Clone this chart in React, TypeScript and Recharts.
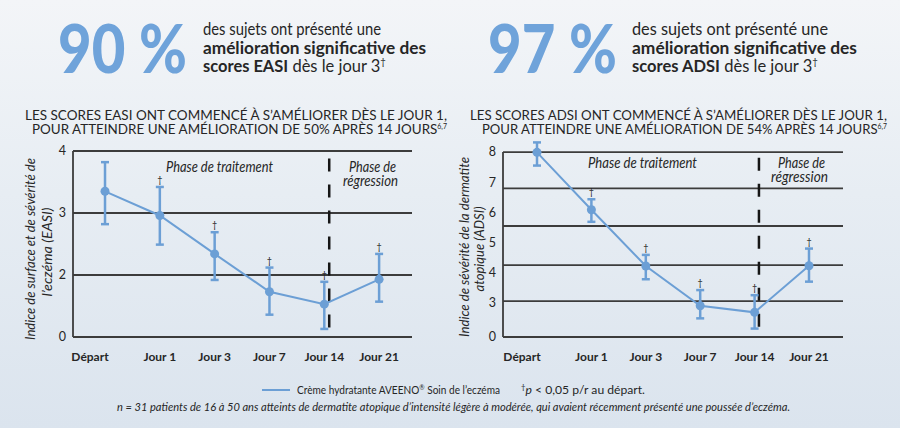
import React from 'react';
import { LineChart, Line, XAxis, YAxis, ErrorBar, ReferenceLine, LabelList } from 'recharts';

// ---------- data ----------
const categories = ['Départ', 'Jour 1', 'Jour 3', 'Jour 7', 'Jour 14', 'Jour 21'];
const significant = [false, true, true, true, true, true];

const easiMean = [3.35, 2.96, 2.34, 1.73, 1.53, 1.93];
const easiHigh = [3.82, 3.42, 2.69, 2.12, 1.89, 2.34];
const easiLow = [2.82, 2.49, 1.92, 1.36, 1.13, 1.57];

const adsiMean = [7.99, 6.08, 4.21, 2.89, 2.67, 4.22];
const adsiHigh = [8.32, 6.43, 4.58, 3.41, 3.24, 4.79];
const adsiLow = [7.55, 5.68, 3.77, 2.47, 2.13, 3.69];

// broken axes: the lowest tick position is labelled "0"
const easiTicks = [4, 3, 2, 1];
const easiTickLabels = ['4', '3', '2', '0'];
const easiGrid = [4, 3, 2];

const adsiTicks = [8, 7, 6, 5, 4, 3, 1.85];
const adsiTickLabels = ['8', '7', '6', '5', '4', '3', '0'];
const adsiGrid = [8, 6.79, 5.54, 4.24, 3.04];

// ---------- styles ----------
const BLUE = '#6c9fd5';
const BIG = '#6fa3da';
const DARK = '#262626';
const GRID = '#3c3c3c';
const FONT = 'Lato, "Open Sans", sans-serif';

function buildRows(mean: number[], hi: number[], lo: number[]) {
  return categories.map((c, i) => ({
    idx: i,
    cat: c,
    mean: mean[i],
    hi: hi[i],
    err: [+(mean[i] - lo[i]).toFixed(3), +(hi[i] - mean[i]).toFixed(3)],
    dag: significant[i] ? '†' : '',
  }));
}

const easiRows = buildRows(easiMean, easiHigh, easiLow);
const adsiRows = buildRows(adsiMean, adsiHigh, adsiLow);

const XTick = (props: any) => {
  const { x, y, payload } = props;
  const v = payload.value;
  return (
    <text
      x={x + (v === 0 ? -15 : 0)}
      y={y}
      dy="0.71em"
      textAnchor="middle"
      fontSize={12}
      fontWeight={700}
      fontFamily={FONT}
      fill={DARK}
    >
      {categories[v]}
    </text>
  );
};

const Dagger = (props: any) => {
  const { x, y, value } = props;
  if (!value) return null;
  return (
    <text x={x} y={y - 4} textAnchor="middle" fontSize={9} fill={DARK} fontFamily={FONT}>
      {value}
    </text>
  );
};

type PanelProps = {
  rows: any[];
  yDomain: [number, number];
  yTicks: number[];
  yTickLabels: string[];
  grid: number[];
  xDomain: [number, number];
  boundary: number;
  boundarySpan: [number, number];
  margin: any;
  width: number;
  height: number;
  left: number;
  top: number;
};

function Panel(p: PanelProps) {
  return (
    <div style={{ position: 'absolute', left: p.left, top: p.top }}>
      <LineChart width={p.width} height={p.height} data={p.rows} margin={p.margin}>
        {p.grid.map((v) => (
          <ReferenceLine key={v} y={v} stroke={GRID} strokeWidth={1.8} />
        ))}
        <XAxis
          type="number"
          dataKey="idx"
          domain={p.xDomain}
          ticks={[0, 1, 2, 3, 4, 5]}
          interval={0}
          tick={<XTick />}
          tickLine={false}
          tickSize={0}
          tickMargin={15}
          height={30}
          axisLine={{ stroke: GRID, strokeWidth: 1.8 }}
        />
        <YAxis
          type="number"
          domain={p.yDomain}
          ticks={p.yTicks}
          interval={0}
          tickFormatter={(v: number) => p.yTickLabels[p.yTicks.indexOf(v)]}
          width={40}
          tickLine={false}
          tickSize={0}
          tickMargin={7}
          axisLine={false}
          tick={{ fontSize: 12.5, fill: DARK, fontFamily: FONT }}
        />
        <ReferenceLine
          segment={[
            { x: p.xDomain[0], y: p.yTicks[p.yTicks.length - 1] },
            { x: p.xDomain[0], y: p.yTicks[0] },
          ]}
          stroke={GRID}
          strokeWidth={1.8}
        />
        <ReferenceLine
          segment={[
            { x: p.boundary, y: p.boundarySpan[0] },
            { x: p.boundary, y: p.boundarySpan[1] },
          ]}
          stroke="#161616"
          strokeWidth={2.5}
          strokeDasharray="13 13"
        />
        <Line
          dataKey="mean"
          stroke={BLUE}
          strokeWidth={2}
          dot={{ r: 4.5, fill: BLUE, stroke: BLUE, strokeWidth: 0 }}
          activeDot={false}
          isAnimationActive={false}
          type="linear"
        >
          <ErrorBar dataKey="err" width={4} strokeWidth={2.5} stroke={BLUE} direction="y" />
        </Line>
        <Line
          dataKey="hi"
          stroke="none"
          dot={false}
          activeDot={false}
          isAnimationActive={false}
          legendType="none"
        >
          <LabelList dataKey="dag" content={<Dagger />} />
        </Line>
      </LineChart>
    </div>
  );
}

const T = (props: any) => <text fontFamily={FONT} fill={DARK} lengthAdjust="spacingAndGlyphs" {...props} />;

export default function App() {
  return (
    <div
      style={{
        position: 'absolute',
        left: 0,
        top: 0,
        width: 900,
        height: 428,
        overflow: 'hidden',
        background: 'linear-gradient(to bottom, #f3f5f8 0%, #e7edf3 45%, #dbe4ee 100%)',
      }}
    >
      <Panel
        rows={easiRows}
        yDomain={[1, 4]}
        yTicks={easiTicks}
        yTickLabels={easiTickLabels}
        grid={easiGrid}
        xDomain={[-0.584, 5.6]}
        boundary={4.09}
        boundarySpan={[3.88, 1.07]}
        margin={{ top: 11, right: 38, bottom: 3, left: 33 }}
        width={450}
        height={230}
        left={0}
        top={140}
      />
      <Panel
        rows={adsiRows}
        yDomain={[1.85, 8.4]}
        yTicks={adsiTicks}
        yTickLabels={adsiTickLabels}
        grid={adsiGrid}
        xDomain={[-0.625, 5.625]}
        boundary={4.08}
        boundarySpan={[7.81, 1.98]}
        margin={{ top: 10, right: 57, bottom: 3, left: 13 }}
        width={450}
        height={240}
        left={450}
        top={130}
      />
      <svg
        width={900}
        height={428}
        style={{ position: 'absolute', left: 0, top: 0, pointerEvents: 'none' }}
      >
        {/* big numbers */}
        <text x={58} y={73} fontFamily={FONT} fontWeight={900} fontSize={66} fill={BIG} textLength={129} lengthAdjust="spacingAndGlyphs">90 %</text>
        <text x={488} y={73} fontFamily={FONT} fontWeight={900} fontSize={66} fill={BIG} textLength={129} lengthAdjust="spacingAndGlyphs">97 %</text>

        {/* header statements */}
        <T x={203} y={35} fontSize={17} textLength={178}>des sujets ont présenté une</T>
        <T x={203} y={53.5} fontSize={17} fontWeight={700} textLength={223}>amélioration significative des</T>
        <T x={203} y={72} fontSize={17} textLength={183}>
          <tspan fontWeight={700}>scores EASI</tspan> dès le jour 3<tspan fontSize={10} dy={-7}>†</tspan>
        </T>
        <T x={632} y={35} fontSize={17} textLength={196}>des sujets ont présenté une</T>
        <T x={632} y={53.5} fontSize={17} fontWeight={700} textLength={225}>amélioration significative des</T>
        <T x={632} y={72} fontSize={17} textLength={186}>
          <tspan fontWeight={700}>scores ADSI</tspan> dès le jour 3<tspan fontSize={10} dy={-7}>†</tspan>
        </T>

        {/* subtitles */}
        <T x={25} y={120} fontSize={13.5} textLength={422}>LES SCORES EASI ONT COMMENCÉ À S’AMÉLIORER DÈS LE JOUR 1,</T>
        <T x={32} y={133.5} fontSize={13.5} textLength={415}>
          POUR ATTEINDRE UNE AMÉLIORATION DE 50% APRÈS 14 JOURS<tspan fontSize={7} dy={-5}>6,7</tspan>
        </T>
        <T x={470} y={120} fontSize={13.5} textLength={417}>LES SCORES ADSI ONT COMMENCÉ À S’AMÉLIORER DÈS LE JOUR 1,</T>
        <T x={482} y={133.5} fontSize={13.5} textLength={405}>
          POUR ATTEINDRE UNE AMÉLIORATION DE 54% APRÈS 14 JOURS<tspan fontSize={7} dy={-5}>6,7</tspan>
        </T>

        {/* y-axis titles */}
        <g transform="translate(30,249) rotate(-90)">
          <T x={0} y={0} fontSize={13} fontStyle="italic" textAnchor="middle" dominantBaseline="central" textLength={182}>Indice de surface et de sévérité de</T>
        </g>
        <g transform="translate(47,252) rotate(-90)">
          <T x={0} y={0} fontSize={13} fontStyle="italic" textAnchor="middle" dominantBaseline="central" textLength={89}>l’eczéma (EASI)</T>
        </g>
        <g transform="translate(464,247) rotate(-90)">
          <T x={0} y={0} fontSize={13} fontStyle="italic" textAnchor="middle" dominantBaseline="central" textLength={180}>Indice de sévérité de la dermatite</T>
        </g>
        <g transform="translate(479,249) rotate(-90)">
          <T x={0} y={0} fontSize={13} fontStyle="italic" textAnchor="middle" dominantBaseline="central" textLength={85}>atopique (ADSI)</T>
        </g>

        {/* phase labels */}
        <T x={166} y={172} fontSize={14.5} fontStyle="italic" textLength={107}>Phase de traitement</T>
        <T x={349} y={172} fontSize={14.5} fontStyle="italic" textLength={47}>Phase de</T>
        <T x={343} y={186} fontSize={14.5} fontStyle="italic" textLength={55}>régression</T>
        <T x={588} y={167.5} fontSize={14.5} fontStyle="italic" textLength={109}>Phase de traitement</T>
        <T x={778} y={167.5} fontSize={14.5} fontStyle="italic" textLength={47}>Phase de</T>
        <T x={771} y={181.5} fontSize={14.5} fontStyle="italic" textLength={57}>régression</T>

        {/* legend / footnotes */}
        <line x1={262} y1={390} x2={290} y2={390} stroke={BLUE} strokeWidth={2} />
        <T x={297} y={393.5} fontSize={11} textLength={203}>
          Crème hydratante AVEENO<tspan fontSize={7} dy={-4}>®</tspan><tspan dy={4}> Soin de l’eczéma</tspan>
        </T>
        <T x={521} y={393.5} fontSize={11} textLength={124}>
          <tspan fontSize={7} dy={-4}>†</tspan><tspan dy={4} fontStyle="italic">p</tspan> &lt; 0,05 p/r au départ.
        </T>
        <T x={117} y={410.5} fontSize={10.5} fontStyle="italic" textLength={673}>
          n = 31 patients de 16 à 50 ans atteints de dermatite atopique d’intensité légère à modérée, qui avaient récemment présenté une poussée d’eczéma.
        </T>
      </svg>
    </div>
  );
}
